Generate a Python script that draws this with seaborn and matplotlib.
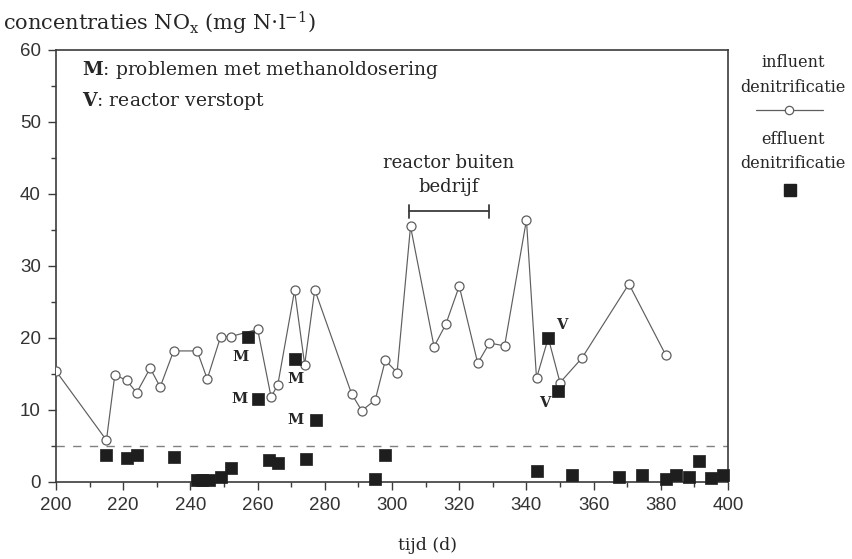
import matplotlib
matplotlib.use("Agg")
import matplotlib.pyplot as plt
from matplotlib.lines import Line2D
from matplotlib.ticker import MultipleLocator
import seaborn as sns
import pandas as pd

# Influent NOx concentration (mg N/l) entering the denitrification reactor
influent_day = [200, 215, 217.5, 221, 224, 228, 231, 235, 242, 245, 249, 252,
                260, 264, 266, 271, 274, 277, 288, 291, 295, 298, 301.5, 305.5,
                312.5, 316, 320, 325.5, 329, 333.5, 340, 343, 346.5, 350, 356.5,
                370.5, 381.5]
influent_nox = [15.4, 5.8, 14.9, 14.1, 12.4, 15.8, 13.2, 18.2, 18.2, 14.3, 20.2, 20.2,
                21.2, 11.8, 13.5, 26.6, 16.3, 26.7, 12.2, 9.9, 11.4, 16.9, 15.2, 35.5,
                18.8, 21.9, 27.2, 16.5, 19.3, 18.9, 36.4, 14.4, 20.0, 13.8, 17.2,
                27.5, 17.6]

# Effluent NOx concentration after denitrification
effluent_day = [215, 221, 224, 235, 242, 243.5, 245.5, 249, 252, 257, 260, 263.5,
                266, 271, 274.5, 277.5, 295, 298, 343, 346.5, 349.5, 353.5, 367.5,
                374.5, 381.5, 384.5, 388.5, 391.5, 395, 398.5]
effluent_nox = [3.8, 3.3, 3.8, 3.4, 0.3, 0.3, 0.3, 0.7, 1.9, 20.1, 11.5, 3.1,
                2.6, 17.1, 3.2, 8.6, 0.4, 3.8, 1.5, 20.0, 12.7, 0.9, 0.75,
                1.0, 0.4, 1.0, 0.75, 2.9, 0.6, 1.0]

# Event markers: M = methanol dosing problems, V = reactor clogged
event_text = ["M", "M", "M", "M", "V", "V"]
event_day = [254.8, 254.6, 271.4, 271.2, 350.4, 345.6]
event_nox = [17.3, 11.5, 14.3, 8.6, 21.8, 11.0]

# Reactor out of service period
outage_start, outage_end, outage_level = 305, 329, 37.6
effluent_limit = 5

x_ticks = [200, 220, 240, 260, 280, 300, 320, 340, 360, 380, 400]
y_ticks = [0, 10, 20, 30, 40, 50, 60]

sns.set_style("ticks")
plt.rcParams["mathtext.fontset"] = "dejavuserif"
SERIF = "DejaVu Serif"
SANS = "Liberation Sans"
INK = "#3b3b3b"
LINE = "#5e5e5e"
TXT = "#262626"

fig = plt.figure(figsize=(8.53, 5.59), dpi=100)
fig.patch.set_facecolor("white")
ax = fig.add_axes([0.0657, 0.1378, 0.7878, 0.7728])

inf = pd.DataFrame({"dag": influent_day, "nox": influent_nox})
eff = pd.DataFrame({"dag": effluent_day, "nox": effluent_nox})

ax.axhline(effluent_limit, color="#808080", lw=1.0, ls=(0, (6, 6)), zorder=1)

sns.lineplot(data=inf, x="dag", y="nox", ax=ax, estimator=None, sort=False,
             color=LINE, lw=0.85, marker="o", markersize=6.5,
             markerfacecolor="white", markeredgecolor=LINE, markeredgewidth=0.9,
             zorder=3)
sns.scatterplot(data=eff, x="dag", y="nox", ax=ax, marker="s", s=68,
                color="#1e1e1e", edgecolor="#1e1e1e", linewidth=0.5,
                zorder=4, clip_on=False)

for t, xd, yd in zip(event_text, event_day, event_nox):
    ax.text(xd, yd, t, family=SERIF, fontweight="bold", fontsize=10.5,
            color=TXT, ha="center", va="center")

# Out-of-service bracket with caption
ax.plot([outage_start, outage_end], [outage_level, outage_level],
        color=INK, lw=1.3, zorder=2)
for xe in (outage_start, outage_end):
    ax.plot([xe, xe], [outage_level - 0.9, outage_level + 0.9],
            color=INK, lw=1.3, zorder=2)
ax.text(316.7, 44.3, "reactor buiten", family=SERIF, fontsize=13,
        color=TXT, ha="center", va="center")
ax.text(316.7, 40.9, "bedrijf", family=SERIF, fontsize=13,
        color=TXT, ha="center", va="center")

# Key for the event letters
ax.text(207.7, 57.2, r"$\mathbf{M}$: problemen met methanoldosering",
        family=SERIF, fontsize=13.5, color=TXT, va="center")
ax.text(207.7, 52.9, r"$\mathbf{V}$: reactor verstopt",
        family=SERIF, fontsize=13.5, color=TXT, va="center")

ax.set_xlim(200, 400)
ax.set_ylim(0, 60)
ax.set_xticks(x_ticks)
ax.set_yticks(y_ticks)
ax.xaxis.set_minor_locator(MultipleLocator(10))
ax.yaxis.set_minor_locator(MultipleLocator(5))
ax.tick_params(which="major", length=6, width=1.0, color=INK,
               labelsize=13.5, labelcolor="#333333", pad=5)
ax.tick_params(which="minor", length=3.5, width=1.0, color=INK)
for lab in ax.get_xticklabels() + ax.get_yticklabels():
    lab.set_family(SANS)
ax.set_xlabel("")
ax.set_ylabel("")
for sp in ax.spines.values():
    sp.set_visible(True)
    sp.set_color(INK)
    sp.set_linewidth(1.2)

fig.text(0.004, 1 - 23 / 559, r"concentraties NO$_\mathrm{x}$ (mg N$\cdot$l$^{\mathrm{-1}}$)",
         family=SERIF, fontsize=15, color=TXT, va="center", ha="left")
fig.text(428 / 853, 1 - 545 / 559, "tijd (d)", family=SERIF, fontsize=12.5,
         color=TXT, ha="center", va="center")

# Series key at the right of the frame
kx = 793 / 853
def fy(py):
    return 1 - py / 559

for txt, py in [("influent", 62), ("denitrificatie", 87),
                ("effluent", 139), ("denitrificatie", 164)]:
    fig.text(kx, fy(py), txt, family=SERIF, fontsize=11.5, color=TXT,
             ha="center", va="center")
fig.add_artist(Line2D([756 / 853, 823 / 853], [fy(110), fy(110)],
                      transform=fig.transFigure, color=LINE, lw=0.9))
fig.add_artist(Line2D([789 / 853], [fy(110)], transform=fig.transFigure,
                      marker="o", markersize=6, markerfacecolor="white",
                      markeredgecolor=LINE, markeredgewidth=0.9, lw=0))
fig.add_artist(Line2D([790 / 853], [fy(190)], transform=fig.transFigure,
                      marker="s", markersize=8.5, color="#1e1e1e", lw=0))

fig.savefig("out.png", dpi=100, facecolor="white")
